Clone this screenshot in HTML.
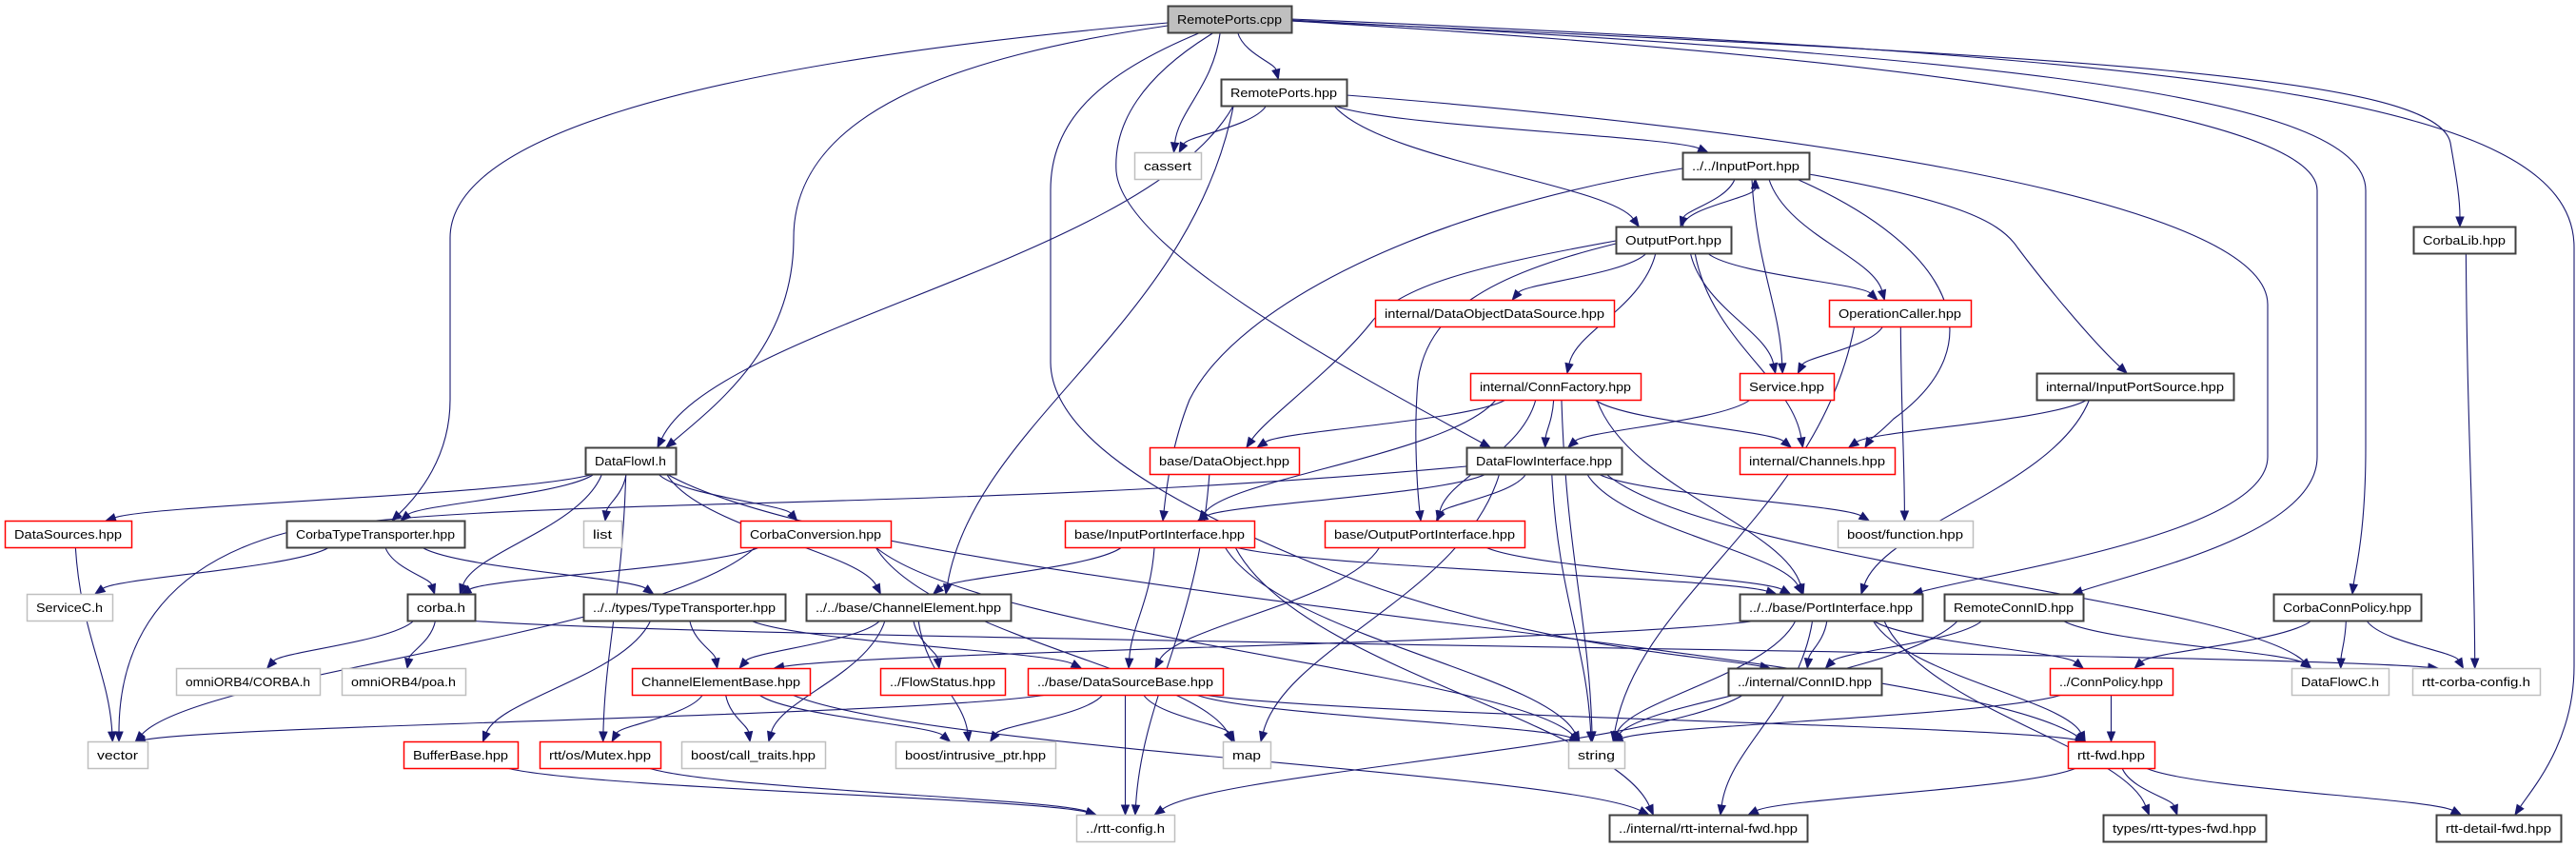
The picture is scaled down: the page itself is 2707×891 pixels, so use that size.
<!DOCTYPE html>
<html><head><meta charset="utf-8"><style>
html,body{margin:0;padding:0;background:#fff;width:2707px;height:891px;overflow:hidden}
svg{display:block}
text{font-family:"Liberation Sans",sans-serif;font-size:13px;fill:#000}
</style></head><body>
<svg id="g" width="2707" height="891" viewBox="0 0 2707 891" xmlns="http://www.w3.org/2000/svg">
<g id="edges" fill="none" stroke="#191970" stroke-width="1.1"></g>
<g id="heads" fill="#191970" stroke="#191970"></g>
<g id="nodes"></g>
</svg>
<script>
var T=[6,83,160,238,315,392,470,547,624,702,779,856],H=28;
var N={
cpp:["RemotePorts.cpp",1227,1357,0,"c"],
rph:["RemotePorts.hpp",1283,1415,1,"b"],
cas:["cassert",1192,1262,2,"g"],
inp:["../../InputPort.hpp",1768,1901,2,"b"],
outp:["OutputPort.hpp",1698,1819,3,"b"],
cbl:["CorbaLib.hpp",2536,2643,3,"b"],
dods:["internal/DataObjectDataSource.hpp",1445,1696,4,"r"],
opc:["OperationCaller.hpp",1922,2071,4,"r"],
cf:["internal/ConnFactory.hpp",1545,1724,5,"r"],
svc:["Service.hpp",1828,1927,5,"r"],
ips:["internal/InputPortSource.hpp",2140,2347,5,"b"],
dfi:["DataFlowI.h",615,710,6,"b"],
dob:["base/DataObject.hpp",1208,1365,6,"r"],
dfif:["DataFlowInterface.hpp",1541,1704,6,"b"],
chn:["internal/Channels.hpp",1828,1991,6,"r"],
dsrc:["DataSources.hpp",5,138,7,"r"],
ctt:["CorbaTypeTransporter.hpp",301,488,7,"b"],
lst:["list",613,653,7,"g"],
cconv:["CorbaConversion.hpp",778,936,7,"r"],
ipi:["base/InputPortInterface.hpp",1119,1318,7,"r"],
opi:["base/OutputPortInterface.hpp",1392,1602,7,"r"],
bfn:["boost/function.hpp",1931,2073,7,"g"],
svch:["ServiceC.h",28,118,8,"g"],
crb:["corba.h",428,499,8,"b"],
tt:["../../types/TypeTransporter.hpp",613,825,8,"b"],
ce:["../../base/ChannelElement.hpp",847,1062,8,"b"],
pi:["../../base/PortInterface.hpp",1828,2020,8,"b"],
rcid:["RemoteConnID.hpp",2043,2189,8,"b"],
ccp:["CorbaConnPolicy.hpp",2389,2544,8,"b"],
oc:["omniORB4/CORBA.h",185,336,9,"g"],
poa:["omniORB4/poa.h",359,489,9,"g"],
ceb:["ChannelElementBase.hpp",664,851,9,"r"],
fs:["../FlowStatus.hpp",925,1056,9,"r"],
dsb:["../base/DataSourceBase.hpp",1080,1285,9,"r"],
cid:["../internal/ConnID.hpp",1816,1977,9,"b"],
cp:["../ConnPolicy.hpp",2154,2283,9,"r"],
dfc:["DataFlowC.h",2408,2510,9,"g"],
rcc:["rtt-corba-config.h",2535,2669,9,"g"],
vec:["vector",92,155,10,"g"],
bb:["BufferBase.hpp",424,544,10,"r"],
mtx:["rtt/os/Mutex.hpp",567,694,10,"r"],
bct:["boost/call_traits.hpp",716,867,10,"g"],
bip:["boost/intrusive_ptr.hpp",941,1109,10,"g"],
map:["map",1285,1335,10,"g"],
str:["string",1648,1707,10,"g"],
rf:["rtt-fwd.hpp",2173,2264,10,"r"],
rc:["../rtt-config.h",1131,1234,11,"g"],
rif:["../internal/rtt-internal-fwd.hpp",1691,1899,11,"b"],
rtf:["types/rtt-types-fwd.hpp",2210,2381,11,"b"],
rdf:["rtt-detail-fwd.hpp",2560,2691,11,"b"]
};
var P={
"cpp cid":[1262,34, 1150,80,1104,130,1104,200, 1104,260,1104,320,1104,380, 1104,450,1200,520,1400,600, 1600,680,1800,690,1860,702],
"cpp dfif":[1276,34, 1200,80,1170,130,1173,180, 1180,260,1400,380,1566,470],
"cpp dfi":[1227,27, 1000,60,834,120,834,250, 834,360,760,420,700,470],
"cpp ctt":[1227,24, 700,70,473,150,473,250, 473,320,473,370,473,420, 473,480,440,520,412,547],
"rph pi":[1415,100, 1800,130,2383,200,2383,320, 2383,380,2383,420,2383,480, 2383,560,2100,600,2010,624],
"cpp rcid":[1357,22, 2000,60,2435,120,2435,200, 2435,300,2435,400,2435,480, 2435,560,2250,600,2178,624],
"cpp ccp":[1357,21, 2100,60,2486,100,2486,200, 2486,300,2486,400,2486,470, 2486,560,2475,600,2472,624],
"cpp cbl":[1357,22, 2200,60,2560,80,2575,150, 2582,190,2585,210,2585,238],
"cpp rdf":[1357,20, 2300,60,2705,100,2705,260, 2705,400,2705,550,2705,700, 2705,780,2660,830,2643,856],
"inp ipi":[1768,177, 1500,220,1300,320,1250,420, 1230,470,1225,520,1222,547],
"outp dob":[1698,253, 1550,280,1470,300,1440,340, 1400,390,1330,440,1310,470],
"outp opi":[1698,256, 1560,290,1500,330,1490,400, 1485,460,1490,520,1493,547],
"dfif vec":[1541,490, 1000,540,500,520,300,560, 150,600,125,700,125,779],
"inp chn":[1890,189, 2050,260,2100,360,1990,440, 1975,455,1965,462,1960,470],
"inp ips":[1901,183, 2050,210,2100,230,2120,260, 2150,300,2200,360,2235,392]
};
var E=("cpp rph,cpp cas,cpp dfi,cpp ctt,cpp dfif,cpp cid,cpp rcid,cpp ccp,cpp cbl,cpp rdf,"+
"rph cas,rph dfi,rph ce,rph outp,rph inp,rph pi,"+
"inp outp,outp inp,inp ipi,inp svc,inp opc,inp chn,inp ips,"+
"outp dods,outp cf,outp svc,outp opc,outp chn,outp dob,outp opi,"+
"opc svc,opc bfn,opc str,svc dfif,ips chn,ips pi,"+
"cf dob,cf ipi,cf opi,cf chn,cf pi,cf str,cf dfif,"+
"dfif ipi,dfif opi,dfif bfn,dfif str,dfif map,dfif vec,dfif pi,dfif dfc,"+
"dfi dsrc,dfi ctt,dfi lst,dfi cconv,dfi crb,dfi ce,dfi mtx,dfi rf,"+
"ctt svch,ctt crb,ctt tt,dsrc vec,cconv crb,cconv vec,cconv map,cconv str,"+
"crb oc,crb poa,crb rcc,tt ceb,tt bb,tt dsb,ce ceb,ce fs,ce bct,ce bip,"+
"ceb mtx,ceb bct,ceb bip,ceb rif,bb rc,mtx rc,dob rc,"+
"ipi ce,ipi dsb,ipi pi,ipi str,ipi rif,opi dsb,opi pi,"+
"dsb vec,dsb bip,dsb map,dsb str,dsb rc,dsb rf,"+
"pi cid,pi cp,pi rf,pi str,pi rif,pi ceb,pi rtf,rcid cid,rcid dfc,rcid str,cid rc,"+
"ccp cp,ccp dfc,ccp rcc,cbl rcc,cp rf,cp str,rf rif,rf rtf,rf rdf").split(",");
var ns="http://www.w3.org/2000/svg";
function el(t,a,p){var e=document.createElementNS(ns,t);for(var k in a)e.setAttribute(k,a[k]);p.appendChild(e);return e;}
var gn=document.getElementById("nodes"),ge=document.getElementById("edges"),gh=document.getElementById("heads");
for(var k in N){var n=N[k],y=T[n[3]],w=n[2]-n[1];
 var st={b:"#404040",r:"#ff0000",g:"#bfbfbf",c:"#404040"}[n[4]];
 el("rect",{x:n[1]+.5,y:y+.5,width:w,height:H,fill:n[4]=="c"?"#bfbfbf":"#fff",stroke:st,"stroke-width":(n[4]=="b"||n[4]=="c")?2:1.5},gn);
 var t=el("text",{x:(n[1]+n[2])/2,y:y+19,"text-anchor":"middle",textLength:Math.max(w-20,8),lengthAdjust:"spacingAndGlyphs"},gn);
 t.textContent=n[0];}
function draw(pts){
 var m=pts.length,tx=pts[m-2],ty=pts[m-1],c2x=pts[m-4],c2y=pts[m-3];
 var dx=tx-c2x,dd=ty-c2y,L=Math.sqrt(dx*dx+dd*dd)||1;dx/=L;dd/=L;
 var ex=tx-dx*10,ey=ty-dd*10;
 var d="M"+pts[0]+","+pts[1];
 for(var i=2;i<m;i+=6){var last=(i+6>=m);
  d+=" C"+pts[i]+","+pts[i+1]+" "+pts[i+2]+","+pts[i+3]+" "+(last?ex:pts[i+4])+","+(last?ey:pts[i+5]);}
 el("path",{d:d},ge);
 el("polygon",{points:tx+","+ty+" "+(ex-dd*4)+","+(ey+dx*4)+" "+(ex+dd*4)+","+(ey-dx*4)},gh);
}
E.forEach(function(s){
 if(P[s]){draw(P[s]);return;}
 var p=s.split(" "),a=N[p[0]],b=N[p[1]];
 var acx=(a[1]+a[2])/2,bcx=(b[1]+b[2])/2,aw=(a[2]-a[1])/2,bw=(b[2]-b[1])/2;
 var sx,sy,tx,ty,c1x,c1y,c2x,c2y;
 if(b[3]>a[3]){
  sx=acx+Math.max(-aw*.8,Math.min(aw*.8,(bcx-acx)*.15));sy=T[a[3]]+H;
  tx=bcx+Math.max(-bw*.6,Math.min(bw*.6,(acx-bcx)*.1));ty=T[b[3]];
  var dy=ty-sy;c1x=sx+(tx-sx)*.15;c1y=sy+dy*.45;c2x=tx-(tx-sx)*.1;c2y=ty-dy*.35;
 } else {
  sx=acx+10;sy=T[a[3]];tx=bcx+10;ty=T[b[3]]+H;var dy=ty-sy;
  c1x=sx;c1y=sy+dy*.4;c2x=tx;c2y=ty-dy*.4;
 }
 draw([sx,sy,c1x,c1y,c2x,c2y,tx,ty]);
});
</script>
</body></html>
